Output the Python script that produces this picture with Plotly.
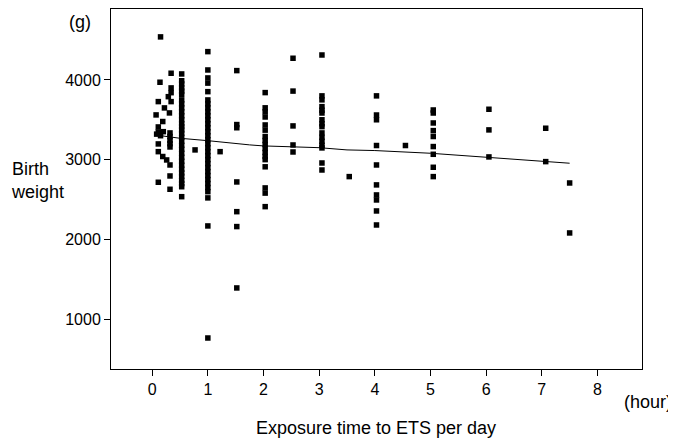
import plotly.graph_objects as go

# Scatter data: exposure time (hour) and birth weight (g)
x_small = [0.15, 0.34, 0.14, 0.34, 0.34, 0.29, 0.11, 0.34, 0.22, 0.31, 0.07, 0.19, 0.11, 0.11, 0.2,
           0.08, 0.15, 0.32, 0.32, 0.32, 0.32, 0.32, 0.11, 0.11, 0.19, 0.26, 0.32, 0.32, 0.11, 0.32]
y_small = [4540, 4084, 3971, 3900, 3840, 3790, 3728, 3728, 3649, 3586, 3561, 3478, 3410, 3347, 3351,
           3320, 3300, 3335, 3290, 3240, 3200, 3159, 3197, 3100, 3039, 2996, 2933, 2795, 2716, 2628]

y_half = [4075, 3990, 3950, 3900, 3860, 3820, 3750, 3700, 3650, 3600, 3550, 3500, 3450, 3414,
          3373, 3330, 3280, 3230, 3180, 3130, 3080, 3030, 2980, 2930, 2880, 2833, 2790, 2740,
          2700, 2660, 2535]

y_one = [4355, 4125, 4025, 3960, 3853, 3749, 3700, 3650, 3600, 3550, 3500, 3450, 3400, 3350,
         3300, 3250, 3200, 3150, 3100, 3050, 3000, 2950, 2900, 2850, 2800, 2750, 2700, 2650,
         2598, 2520, 2168, 762]

x_misc = [0.77, 1.22,
          1.52, 1.52, 1.52, 1.52, 1.52, 1.52, 1.52,
          2.03, 2.03, 2.03, 2.03, 2.03, 2.03, 2.03, 2.03, 2.03, 2.03, 2.03, 2.03, 2.03, 2.03, 2.03, 2.03, 2.03,
          2.53, 2.53, 2.53, 2.53, 2.53,
          3.05, 3.05, 3.05, 3.05, 3.05, 3.05, 3.05, 3.05, 3.05, 3.05, 3.05, 3.05, 3.05, 3.05, 3.05, 3.05,
          3.54,
          4.03, 4.03, 4.03, 4.03, 4.03, 4.03, 4.03, 4.03, 4.03, 4.03,
          4.55,
          5.05, 5.05, 5.05, 5.05, 5.05, 5.05, 5.05, 5.05, 5.05,
          6.05, 6.05, 6.05,
          7.07, 7.07,
          7.5, 7.5]
y_misc = [3122, 3100,
          4117, 3440, 3400, 2720, 2347, 2160, 1390,
          3841, 3650, 3600, 3535, 3435, 3370, 3290, 3240, 3190, 3140, 3090, 3040, 3000, 2910, 2645, 2580, 2410,
          4272, 3860, 3423, 3184, 3096,
          4313, 3800, 3750, 3665, 3620, 3585, 3500, 3450, 3414, 3335, 3280, 3230, 3180, 3147, 2958, 2870,
          2787,
          3800, 3560, 3500, 3177, 2933, 2683, 2557, 2494, 2356, 2180,
          3177,
          3623, 3585, 3460, 3364, 3290, 3164, 3067, 2904, 2787,
          3632, 3373, 3034,
          3394, 2975,
          2707, 2080]

x_pts = x_small + [0.53] * len(y_half) + [1.0] * len(y_one) + x_misc
y_pts = y_small + y_half + y_one + y_misc

# Smoothed trend line
line_x = [0.05, 0.5, 1.0, 1.25, 1.75, 2.0, 2.5, 3.0, 3.5, 4.0, 5.0, 6.0, 7.0, 7.5]
line_y = [3310, 3268, 3238, 3218, 3185, 3172, 3164, 3150, 3122, 3114, 3080, 3030, 2980, 2955]

x_ticks = [0, 1, 2, 3, 4, 5, 6, 7, 8]
y_ticks = [1000, 2000, 3000, 4000]

FONT = "Liberation Sans, Arial, sans-serif"

fig = go.Figure()
fig.add_trace(go.Scatter(x=x_pts, y=y_pts, mode="markers",
                         marker=dict(symbol="square", size=5.5, color="black",
                                     line=dict(width=0)),
                         showlegend=False, hoverinfo="skip"))
fig.add_trace(go.Scatter(x=line_x, y=line_y, mode="lines",
                         line=dict(color="black", width=1),
                         showlegend=False, hoverinfo="skip"))

fig.update_layout(
    width=668, height=433,
    margin=dict(l=103, r=34, t=1, b=72),
    paper_bgcolor="white", plot_bgcolor="white",
    font=dict(family=FONT, size=16, color="black"),
    xaxis=dict(range=[-0.74, 8.8], tickvals=x_ticks, ticks="outside", ticklen=6,
               tickcolor="black", showgrid=False, zeroline=False,
               showline=True, linecolor="black", linewidth=1, mirror=True,
               tickfont=dict(size=16)),
    yaxis=dict(range=[373, 4890], tickvals=y_ticks, ticks="outside", ticklen=6,
               tickcolor="black", showgrid=False, zeroline=False,
               showline=True, linecolor="black", linewidth=1, mirror=True,
               tickfont=dict(size=16)),
    annotations=[
        dict(text="(g)", xref="paper", yref="paper", x=-0.058, y=0.964,
             showarrow=False, font=dict(size=18), xanchor="center", yanchor="middle"),
        dict(text="Birth<br>weight", xref="paper", yref="paper", x=-0.193, y=0.525,
             showarrow=False, font=dict(size=18), xanchor="left", yanchor="middle", align="left"),
        dict(text="(hour)", xref="paper", yref="paper", x=1.060, y=-0.092,
             showarrow=False, font=dict(size=18), xanchor="right", yanchor="middle"),
        dict(text="Exposure time to ETS per day", xref="paper", yref="paper", x=0.499, y=-0.164,
             showarrow=False, font=dict(size=18), xanchor="center", yanchor="middle"),
    ],
)

fig.write_html("out.html")
